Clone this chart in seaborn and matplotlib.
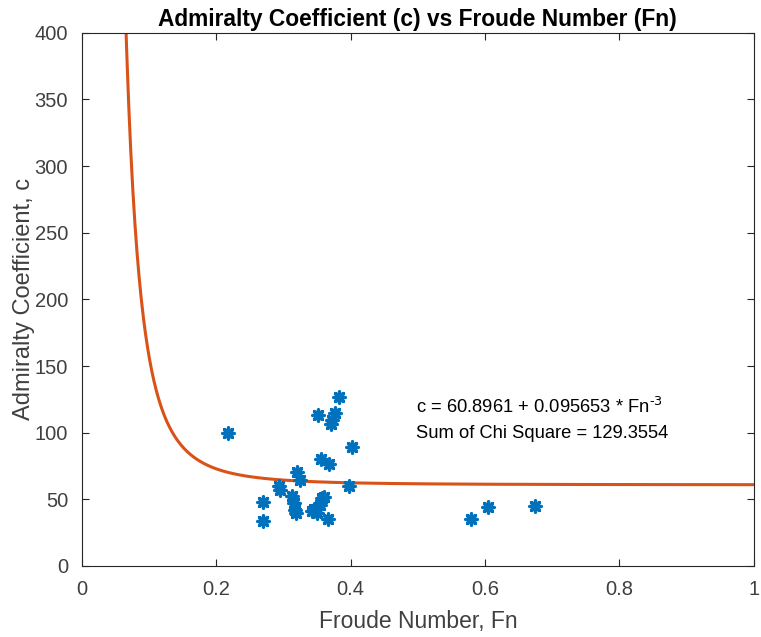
import numpy as np
import pandas as pd
import matplotlib
matplotlib.use("Agg")
import matplotlib.pyplot as plt
import seaborn as sns

fn = [0.218, 0.383, 0.351, 0.377, 0.372, 0.371, 0.402, 0.356, 0.368, 0.320,
      0.324, 0.294, 0.295, 0.398, 0.269, 0.270, 0.313, 0.315, 0.317, 0.319,
      0.360, 0.355, 0.345, 0.343, 0.350, 0.366, 0.579, 0.604, 0.674, 0.357]
coef = [100, 126.5, 113, 114.5, 109.5, 106.5, 89, 80, 76.5, 70.5,
        64.5, 60, 57, 60, 48, 34, 52.5, 47, 42, 40,
        51.5, 46, 43, 41, 40, 35, 35, 44, 45, 51]

a_fit = 60.8961
b_fit = 0.095653
fn_curve = np.linspace(0.06, 1.0, 600)
c_curve = a_fit + b_fit * fn_curve ** -3

sns.set_theme(style="white")
plt.rcParams['font.family'] = ['Liberation Sans', 'DejaVu Sans']

fig = plt.figure(figsize=(7.61, 6.37), dpi=100)
ax = fig.add_axes([0.1078, 0.1115, 0.8825, 0.837])

pts = pd.DataFrame({"Fn": fn, "c": coef})
curve = pd.DataFrame({"Fn": fn_curve, "c": c_curve})

sns.lineplot(data=curve, x="Fn", y="c", ax=ax, color="#D95319", linewidth=2.2, sort=False)
sns.scatterplot(data=pts, x="Fn", y="c", ax=ax, marker=(8, 2, 0), s=65,
                color="#0072BD", edgecolor="#0072BD", linewidth=2.4, zorder=3)

ax.set_xlim(0, 1)
ax.set_ylim(0, 400)
ax.set_xticks([0, 0.2, 0.4, 0.6, 0.8, 1])
ax.set_xticklabels(["0", "0.2", "0.4", "0.6", "0.8", "1"])
ax.set_yticks(np.arange(0, 401, 50))
ax.tick_params(direction="in", length=5, width=0.8, colors="#262626",
               labelsize=14.5, top=True, right=True, bottom=True, left=True,
               labelcolor="#404040", pad=10)
for sp in ax.spines.values():
    sp.set_color("#262626")
    sp.set_linewidth(0.8)

ax.set_xlabel("Froude Number, Fn", fontsize=16.5, color="#404040", labelpad=8)
ax.set_ylabel("Admiralty Coefficient, c", fontsize=17, color="#404040", labelpad=0)
ax.set_title("Admiralty Coefficient (c) vs Froude Number (Fn)", fontsize=16.4,
             fontweight="bold", color="black", pad=5)

ax.text(0.498, 115, r"c = 60.8961 + 0.095653 * Fn$^{\text{-}3}$", fontsize=13.2, color="black")
ax.text(0.498, 96, "Sum of Chi Square = 129.3554", fontsize=13.2, color="black")

fig.savefig("out.png", dpi=100)
